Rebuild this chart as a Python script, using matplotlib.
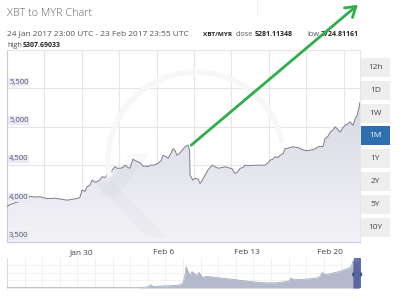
import numpy as np
import matplotlib
matplotlib.use("Agg")
import matplotlib.pyplot as plt
import matplotlib.dates as mdates
from matplotlib.patches import Rectangle, Polygon, FancyArrowPatch, Arc
from datetime import datetime

# ---------------- data ----------------
# days since 24 Jan 2017 00:00
days = [-0.24, 0.01, 0.44, 0.86, 1.11, 1.45, 1.70, 2.12, 2.54, 3.13, 3.81, 4.23, 4.82, 5.24,
        5.75, 5.92, 6.08, 6.34, 6.51, 6.76, 6.93, 7.18, 7.35, 7.60, 7.77, 8.02, 8.19, 8.45,
        8.61, 8.87, 9.04, 9.29, 9.54, 9.71, 9.96, 10.13, 10.38, 10.55, 10.81, 11.06, 11.23,
        11.48, 11.65, 11.82, 12.07, 12.32, 12.49, 12.75, 12.91, 13.17, 13.34, 13.59, 13.76,
        13.93, 14.09, 14.35, 14.52, 14.77, 15.02, 15.15, 15.19, 15.27, 15.44, 15.61, 15.87,
        16.03, 16.20, 16.46, 16.71, 17.05, 17.30, 17.55, 17.89, 18.14, 18.48, 18.73, 18.98,
        19.24, 19.41, 19.66, 19.83, 20.08, 20.67, 21.09, 21.51, 21.77, 21.94, 22.19, 22.36,
        22.61, 22.78, 23.03, 23.20, 23.45, 23.79, 24.04, 24.30, 24.55, 24.72, 24.97, 25.14,
        25.39, 25.56, 25.81, 25.98, 26.24, 26.40, 26.57, 26.83, 27.00, 27.25, 27.42, 27.67,
        27.84, 28.09, 28.26, 28.51, 28.68, 28.93, 29.10, 29.27, 29.44, 29.52]
prices = [3960, 3990, 4010, 4030, 4065, 4060, 4095, 4085, 4090, 4065, 4070, 4060, 4045, 4055,
          4070, 4085, 4175, 4160, 4220, 4240, 4305, 4280, 4285, 4310, 4350, 4340, 4370, 4390,
          4435, 4480, 4460, 4460, 4470, 4500, 4470, 4460, 4580, 4560, 4545, 4520, 4485,
          4490, 4480, 4500, 4500, 4510, 4525, 4560, 4630, 4610, 4590, 4660, 4715,
          4690, 4630, 4660, 4695, 4740, 4760, 4700, 4370, 4350, 4305, 4330, 4320,
          4262, 4300, 4370, 4440, 4500, 4480, 4460, 4470, 4480, 4465, 4455, 4390,
          4420, 4460, 4470, 4500, 4495, 4500, 4500, 4500, 4530, 4565, 4580, 4610,
          4600, 4630, 4650, 4715, 4720, 4740, 4735, 4730, 4710, 4700, 4690, 4690,
          4700, 4700, 4720, 4740, 4745, 4740, 4845, 4880, 4930, 4960, 5000, 4960,
          4930, 4990, 5020, 5040, 5065, 5020, 5100, 5150, 5250, 5320]

nav_days = [-0.24, 10.88, 11.47, 11.72, 11.89, 12.06, 12.57, 13.41, 14.26, 14.60, 14.77,
            14.85, 15.02, 15.19, 15.36, 15.53, 15.70, 15.95, 16.21, 16.55, 16.97, 17.64,
            18.74, 19.75, 20.59, 21.60, 22.44, 23.12, 23.54, 23.71, 23.88, 24.38, 25.23,
            25.90, 26.15, 26.32, 26.57, 26.91, 27.75, 28.43, 28.76, 28.93, 29.10, 29.27, 29.44]
nav_values = [0.3, 0.3, 1.0, 1.5, 3.5, 1.5, 2.0, 2.3, 3.0, 5.0, 14, 22, 17, 13, 17, 15, 13,
              16, 11, 12, 11.5, 10.5, 9.0, 7.5, 6.3, 5.3, 5.3, 6.5, 7.5, 10.5, 8.5, 8.7, 9.5,
              10.5, 12, 16, 14, 14.5, 17, 20, 22, 28, 27, 25, 30]

y_ticks = [3500, 4000, 4500, 5000, 5500, 6000]
x_tick_dates = [datetime(2017, 1, 30), datetime(2017, 2, 6), datetime(2017, 2, 13), datetime(2017, 2, 20)]
buttons = ["12h", "1D", "1W", "1M", "1Y", "2Y", "5Y", "10Y"]
active_button = "1M"

title = "XBT to MYR Chart"
range_text = "24 Jan 2017 23:00 UTC - 23 Feb 2017 23:55 UTC"
pair = "XBT/MYR"
close_v = "5281.11348"
low_v = "3724.81161"
high_v = "5307.69033"

# ---------------- figure ----------------
W, H = 400, 297
FONT = ["Open Sans", "DejaVu Sans"]
plt.rcParams['font.family'] = FONT
fig = plt.figure(figsize=(W / 100, H / 100), dpi=100)
fig.patch.set_facecolor("white")


def fx(x):
    return x / W


def fy(y):
    return 1 - y / H


base = mdates.date2num(datetime(2017, 1, 24))
xs = base + np.array(days)
ys = np.array(prices)

ax = fig.add_axes([fx(7), fy(242), 353 / W, 192 / H])
ax.set_xlim(base - 0.24, base + 29.52)
ax.set_ylim(3500, 6000)
ax.set_facecolor("none")

# gridlines
for v in y_ticks:
    ax.axhline(v, color="#e6e6e6", lw=0.8, zorder=0)
grid_step = 37.4 / 11.86
gx = base - 0.24 + np.arange(0, 10) * grid_step
for g in gx:
    ax.axvline(g, color="#e6e6e6", lw=0.8, zorder=0)

# gradient fill under line
poly_xy = np.column_stack([np.r_[xs[0], xs, xs[-1]], np.r_[3500, ys, 3500]])
poly = Polygon(poly_xy, closed=True, facecolor="none", edgecolor="none")
ax.add_patch(poly)
grad = np.linspace(0, 1, 256).reshape(-1, 1)
cmap = matplotlib.colors.LinearSegmentedColormap.from_list("g", ["#f3f3f7", "#d8d8e4"])
im = ax.imshow(grad, aspect="auto", cmap=cmap, origin="lower",
               extent=[xs[0], xs[-1], 3500, 5350], zorder=1)
im.set_clip_path(poly)

# watermark (faint logo)
wm = "#b8b8c8"
ax.add_patch(Polygon([[base + 7.0, 4300], [base + 8.6, 4300], [base + 13.2, 3560], [base + 11.6, 3560]],
                     closed=True, facecolor=wm, alpha=0.08, edgecolor="none", zorder=2))
ax.add_patch(Polygon([[base + 10.2, 4650], [base + 11.8, 4650], [base + 9.0, 4100], [base + 7.4, 4100]],
                     closed=True, facecolor=wm, alpha=0.07, edgecolor="none", zorder=2))
ring = Arc((fx(196), fy(160)), 2 * 88 / W, 2 * 88 / H, theta1=15, theta2=195,
           transform=fig.transFigure, color="#f7f7f9", lw=4, zorder=0.5)
fig.add_artist(ring)

ax.plot(xs, ys, color="#7d7d90", lw=0.7, zorder=3)

# y tick labels inside the plot
for v in y_ticks[:-1]:
    ax.annotate(f"{v:,}", xy=(base - 0.24, v), xytext=(1.5, 4.5), textcoords="offset points",
                fontsize=5.5, color="#555570", va="center", ha="left", zorder=4,
                bbox=dict(boxstyle="square,pad=0.1", fc="#eaeaf5", ec="none"))

ax.set_yticks([])
ax.set_xticks(mdates.date2num(x_tick_dates))
ax.set_xticklabels([d.strftime("%b ") + str(d.day) for d in x_tick_dates])
ax.tick_params(axis="x", length=0, labelsize=6, labelcolor="#444444", pad=5)
for s in ["top", "right"]:
    ax.spines[s].set_color("#e6e6e6")
    ax.spines[s].set_linewidth(0.8)
ax.spines["left"].set_color("#cccccc")
ax.spines["left"].set_linewidth(0.8)
ax.spines["bottom"].set_color("#c8cfe0")
ax.spines["bottom"].set_linewidth(0.9)

# ---------------- navigator ----------------
nav = fig.add_axes([fx(7), fy(288), 354 / W, 30 / H])
nav.set_xlim(base - 0.24, base + 29.6)
nav.set_ylim(0, 31)
nx = base + np.array(nav_days)
nv = np.array(nav_values)
nav.fill_between(nx, 0, nv, color="#b4b9cb", lw=0, zorder=2)
nav.plot(nx, nv, color="#9aa0b8", lw=0.5, zorder=3)
sel = nx >= base + 28.9
nav.fill_between(nx[sel], 0, nv[sel], color="#4e5d99", lw=0, zorder=4)
nav.axvspan(base + 29.0, base + 29.55, color="#5a69a3", alpha=0.9, zorder=4)
for g in base - 0.24 + np.arange(0, 21) * (17.6 / 11.86):
    nav.axvline(g, color="#eeeeee", lw=0.6, zorder=0)
for g in [8, 16, 24]:
    nav.axhline(g, color="#f0f0f0", lw=0.6, zorder=0)
for hx in [28.95, 29.6]:
    c = base + hx
    nav.add_patch(Polygon([[c - 0.12, 14], [c, 17], [c + 0.12, 14], [c, 11]], closed=True,
                          facecolor="#3f4f8c", edgecolor="none", zorder=5, clip_on=False))
nav.set_xticks([])
nav.set_yticks([])
for s in nav.spines.values():
    s.set_visible(False)
nav.spines["left"].set_visible(True)
nav.spines["left"].set_color("#d8d8d8")
nav.spines["left"].set_linewidth(0.6)

# ---------------- buttons ----------------
for i, b in enumerate(buttons):
    top = 58 + i * 22.8
    active = b == active_button
    fig.add_artist(Rectangle((fx(361), fy(top + 19)), 29 / W, 19 / H, transform=fig.transFigure,
                             facecolor="#2f6fb0" if active else "#eeeeef", edgecolor="none"))
    fig.text(fx(375.5), fy(top + 9.5), b, fontsize=6, ha="center", va="center",
             color="white" if active else "#444444")

# ---------------- header ----------------
fig.text(fx(7), fy(14), title, fontsize=7.8, color="#666666", ha="left", va="center",
         fontweight="light")


def put(txt, x, y, bold, size):
    fig.text(fx(x), fy(y), txt, fontsize=size, ha="left", va="baseline",
             color="#222222" if bold else "#555555",
             fontweight="bold" if bold else "normal")


put(range_text, 7, 35.5, False, 6.0)
put(pair, 203, 35.5, True, 4.6)
put("close", 235.5, 35.5, False, 5.3)
put(close_v, 255, 35.5, True, 5.0)
put("low", 307, 35.5, False, 5.3)
put(low_v, 321, 35.5, True, 5.0)
put("high", 7, 47, False, 5.3)
put(high_v, 22.5, 47, True, 5.0)

# header separator
fig.add_artist(plt.Line2D([fx(257), fx(257)], [fy(0), fy(16)], transform=fig.transFigure,
                          color="#eeeeee", lw=0.6))

# ---------------- green arrow ----------------
arr = FancyArrowPatch((fx(189), fy(147)), (fx(360), fy(3)), transform=fig.transFigure,
                      arrowstyle="->,head_length=7,head_width=4.5", color="#2fae4c", lw=2.0,
                      zorder=10)
fig.add_artist(arr)

fig.savefig("out.png", dpi=100)
